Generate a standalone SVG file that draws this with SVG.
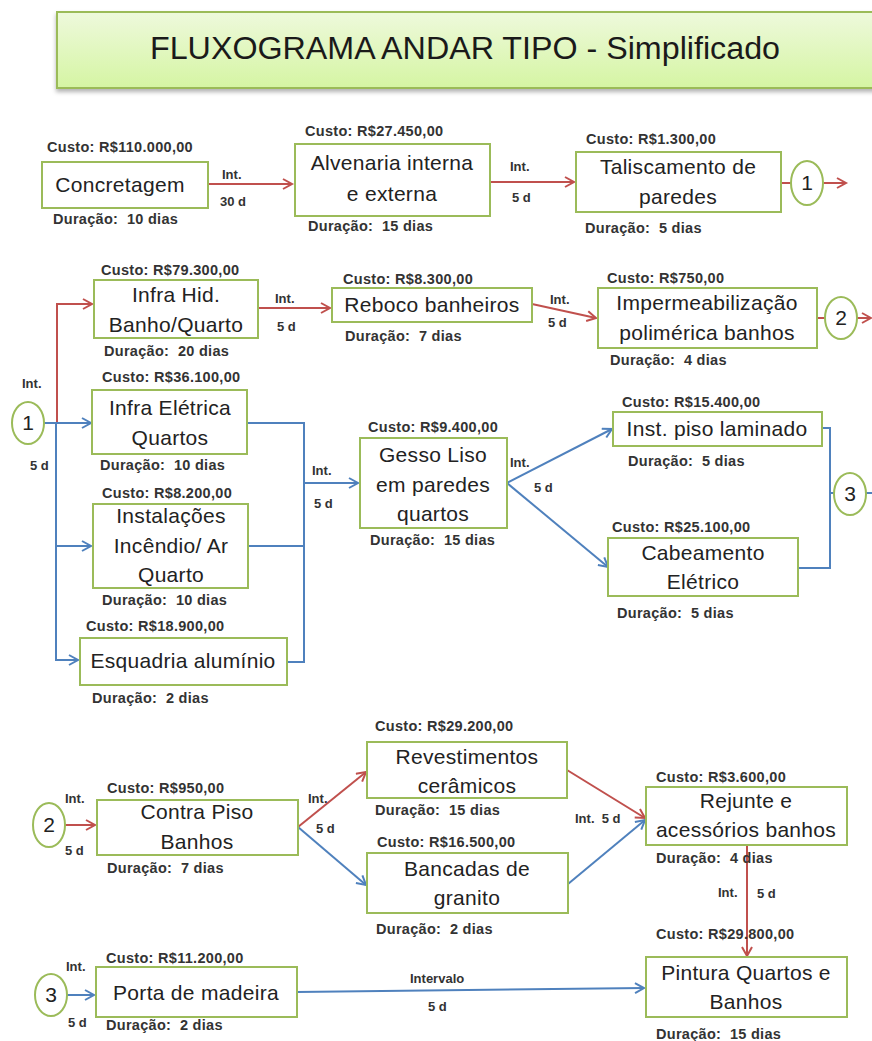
<svg xmlns="http://www.w3.org/2000/svg" width="872" height="1041" viewBox="0 0 872 1041">
<style>
.box{fill:#fff;stroke:#9bbb59;stroke-width:2}
.circ{fill:#fff;stroke:#9bbb59;stroke-width:2}
.nt{font-family:"Liberation Sans",Arial,sans-serif;font-size:21px;fill:#222;text-anchor:middle;letter-spacing:0.3px}
.ct{font-family:"Liberation Sans",Arial,sans-serif;font-size:21px;fill:#222;text-anchor:middle}
.lb{font-family:"Liberation Sans",Arial,sans-serif;font-size:14.5px;font-weight:bold;fill:#333;letter-spacing:0.3px}
.sl{font-family:"Liberation Sans",Arial,sans-serif;font-size:13px;font-weight:bold;fill:#333}
.r{fill:none;stroke:#c0504d;stroke-width:2}
.b{fill:none;stroke:#4f81bd;stroke-width:2}
.ra{marker-end:url(#ar)}
.ba{marker-end:url(#ab)}
</style>
<defs>
<linearGradient id="tg" x1="0" y1="0" x2="0" y2="1">
<stop offset="0" stop-color="#eef9dc"/>
<stop offset="1" stop-color="#d5f5a3"/>
</linearGradient>
<marker id="ar" markerUnits="userSpaceOnUse" markerWidth="14" markerHeight="14" refX="10" refY="6" orient="auto"><path d="M1,1 L10,6 L1,11" fill="none" stroke="#c0504d" stroke-width="2"/></marker>
<marker id="ab" markerUnits="userSpaceOnUse" markerWidth="14" markerHeight="14" refX="10" refY="6" orient="auto"><path d="M1,1 L10,6 L1,11" fill="none" stroke="#4f81bd" stroke-width="2"/></marker>
<filter id="sh" x="-5%" y="-20%" width="110%" height="150%"><feDropShadow dx="0" dy="3" stdDeviation="2" flood-color="#000" flood-opacity="0.3"/></filter>
</defs>
<rect width="872" height="1041" fill="#fff"/>

<g id="title">
<rect x="57" y="12" width="830" height="76" fill="url(#tg)" stroke="#9bbb59" stroke-width="2" filter="url(#sh)"/>
<text x="150" y="59" font-family="Liberation Sans,Arial,sans-serif" font-size="31" fill="#1a1a1a" textLength="630" lengthAdjust="spacingAndGlyphs">FLUXOGRAMA ANDAR TIPO - Simplificado</text>
</g>

<g id="connectors">
<line class="r ra" x1="208" y1="184" x2="292" y2="184"/>
<line class="r ra" x1="490" y1="182" x2="574" y2="182"/>
<line class="r" x1="781" y1="183" x2="791" y2="183"/>
<line class="r ra" x1="824" y1="183" x2="846" y2="183"/>
<line class="r ra" x1="258" y1="308" x2="330" y2="308"/>
<line class="r ra" x1="532" y1="304" x2="596" y2="318"/>
<line class="r" x1="817" y1="318" x2="826" y2="318"/>
<line class="r ra" x1="856" y1="318" x2="871" y2="318"/>
<polyline class="r ra" points="57,423 57,304 92,304"/>
<line class="b ba" x1="44" y1="423" x2="91" y2="423"/>
<polyline class="b" points="56,423 56,660 68,660"/>
<line class="b ba" x1="56" y1="546" x2="91" y2="546"/>
<line class="b ba" x1="56" y1="660" x2="78" y2="660"/>
<polyline class="b" points="247,423 304,423 304,662 287,662"/>
<line class="b" x1="248" y1="546" x2="304" y2="546"/>
<line class="b ba" x1="304" y1="483" x2="358" y2="483"/>
<line class="b ba" x1="507" y1="483" x2="612" y2="429"/>
<line class="b ba" x1="507" y1="483" x2="608" y2="567"/>
<polyline class="b" points="822,428 830,428 830,568 798,568"/>
<line class="b" x1="830" y1="493" x2="834" y2="493"/>
<line class="b" x1="866" y1="493" x2="872" y2="493"/>
<line class="r ra" x1="65" y1="825" x2="95" y2="825"/>
<line class="r ra" x1="298" y1="827" x2="366" y2="772"/>
<line class="b ba" x1="298" y1="827" x2="366" y2="885"/>
<line class="r ra" x1="567" y1="770" x2="645" y2="818"/>
<line class="b ba" x1="568" y1="884" x2="645" y2="820"/>
<line class="r ra" x1="747" y1="845" x2="747" y2="956"/>
<line class="b ba" x1="67" y1="995" x2="94" y2="995"/>
<line class="b ba" x1="297" y1="992" x2="644" y2="988"/>
<text class="sl" x="222" y="179">Int.</text>
<text class="sl" x="220" y="206">30 d</text>
<text class="sl" x="510" y="171">Int.</text>
<text class="sl" x="512" y="202">5 d</text>
<text class="sl" x="275" y="303">Int.</text>
<text class="sl" x="277" y="331">5 d</text>
<text class="sl" x="550" y="304">Int.</text>
<text class="sl" x="548" y="327">5 d</text>
<text class="sl" x="22" y="388">Int.</text>
<text class="sl" x="30" y="470">5 d</text>
<text class="sl" x="312" y="475">Int.</text>
<text class="sl" x="314" y="508">5 d</text>
<text class="sl" x="510" y="467">Int.</text>
<text class="sl" x="534" y="492">5 d</text>
<text class="sl" x="65" y="803">Int.</text>
<text class="sl" x="65" y="855">5 d</text>
<text class="sl" x="308" y="803">Int.</text>
<text class="sl" x="316" y="833">5 d</text>
<text class="sl" x="575" y="823">Int.&#160; 5 d</text>
<text class="sl" x="718" y="897">Int.</text>
<text class="sl" x="757" y="898">5 d</text>
<text class="sl" x="66" y="971">Int.</text>
<text class="sl" x="68" y="1027">5 d</text>
<text class="sl" x="410" y="983">Intervalo</text>
<text class="sl" x="428" y="1011">5 d</text>
</g>

<g id="c1a"><ellipse class="circ" cx="807" cy="183" rx="16" ry="22"/><text class="ct" x="807" y="190">1</text></g>
<g id="c2a"><ellipse class="circ" cx="841" cy="318" rx="16" ry="21"/><text class="ct" x="841" y="325">2</text></g>
<g id="c1b"><ellipse class="circ" cx="28" cy="423" rx="16" ry="21"/><text class="ct" x="28" y="430">1</text></g>
<g id="c3a"><ellipse class="circ" cx="850" cy="494" rx="16" ry="21"/><text class="ct" x="850" y="501">3</text></g>
<g id="c2b"><ellipse class="circ" cx="49" cy="825" rx="16" ry="22"/><text class="ct" x="49" y="832">2</text></g>
<g id="c3b"><ellipse class="circ" cx="51" cy="995" rx="16" ry="21"/><text class="ct" x="51" y="1002">3</text></g>

<g id="concretagem">
<rect class="box" x="42" y="162" width="166" height="46"/>
<text class="nt" x="120" y="192">Concretagem</text>
<text class="lb" x="47" y="152">Custo: R$110.000,00</text>
<text class="lb" x="53" y="224">Duração:&#160; 10 dias</text>
</g>
<g id="alvenaria">
<rect class="box" x="295" y="144" width="195" height="72"/>
<text class="nt" x="392" y="170">Alvenaria interna</text>
<text class="nt" x="392" y="201">e externa</text>
<text class="lb" x="305" y="136">Custo: R$27.450,00</text>
<text class="lb" x="308" y="231">Duração:&#160; 15 dias</text>
</g>
<g id="taliscamento">
<rect class="box" x="576" y="152" width="205" height="60"/>
<text class="nt" x="678" y="174">Taliscamento de</text>
<text class="nt" x="678" y="204">paredes</text>
<text class="lb" x="586" y="144">Custo: R$1.300,00</text>
<text class="lb" x="585" y="233">Duração:&#160; 5 dias</text>
</g>
<g id="infra-hid">
<rect class="box" x="94" y="280" width="164" height="58"/>
<text class="nt" x="176" y="302">Infra Hid.</text>
<text class="nt" x="176" y="332">Banho/Quarto</text>
<text class="lb" x="101" y="275">Custo: R$79.300,00</text>
<text class="lb" x="104" y="356">Duração:&#160; 20 dias</text>
</g>
<g id="reboco">
<rect class="box" x="332" y="288" width="200" height="34"/>
<text class="nt" x="432" y="312">Reboco banheiros</text>
<text class="lb" x="343" y="284">Custo: R$8.300,00</text>
<text class="lb" x="345" y="341">Duração:&#160; 7 dias</text>
</g>
<g id="impermeabilizacao">
<rect class="box" x="598" y="288" width="219" height="60"/>
<text class="nt" x="707" y="310">Impermeabilização</text>
<text class="nt" x="707" y="340">polimérica banhos</text>
<text class="lb" x="607" y="283">Custo: R$750,00</text>
<text class="lb" x="610" y="365">Duração:&#160; 4 dias</text>
</g>
<g id="infra-eletrica">
<rect class="box" x="92" y="390" width="155" height="64"/>
<text class="nt" x="170" y="415">Infra Elétrica</text>
<text class="nt" x="170" y="445">Quartos</text>
<text class="lb" x="102" y="382">Custo: R$36.100,00</text>
<text class="lb" x="100" y="470">Duração:&#160; 10 dias</text>
</g>
<g id="instalacoes">
<rect class="box" x="93" y="504" width="155" height="84"/>
<text class="nt" x="171" y="523">Instalações</text>
<text class="nt" x="171" y="553">Incêndio/ Ar</text>
<text class="nt" x="171" y="582">Quarto</text>
<text class="lb" x="102" y="498">Custo: R$8.200,00</text>
<text class="lb" x="102" y="605">Duração:&#160; 10 dias</text>
</g>
<g id="esquadria">
<rect class="box" x="80" y="638" width="207" height="47"/>
<text class="nt" x="183" y="668">Esquadria alumínio</text>
<text class="lb" x="86" y="631">Custo: R$18.900,00</text>
<text class="lb" x="92" y="703">Duração:&#160; 2 dias</text>
</g>
<g id="gesso">
<rect class="box" x="360" y="438" width="147" height="90"/>
<text class="nt" x="433" y="462">Gesso Liso</text>
<text class="nt" x="433" y="492">em paredes</text>
<text class="nt" x="433" y="521">quartos</text>
<text class="lb" x="368" y="432">Custo: R$9.400,00</text>
<text class="lb" x="370" y="545">Duração:&#160; 15 dias</text>
</g>
<g id="piso">
<rect class="box" x="613" y="412" width="209" height="34"/>
<text class="nt" x="717" y="436">Inst. piso laminado</text>
<text class="lb" x="622" y="407">Custo: R$15.400,00</text>
<text class="lb" x="628" y="466">Duração:&#160; 5 dias</text>
</g>
<g id="cabeamento">
<rect class="box" x="608" y="538" width="190" height="58"/>
<text class="nt" x="703" y="560">Cabeamento</text>
<text class="nt" x="703" y="589">Elétrico</text>
<text class="lb" x="612" y="532">Custo: R$25.100,00</text>
<text class="lb" x="617" y="618">Duração:&#160; 5 dias</text>
</g>
<g id="contrapiso">
<rect class="box" x="97" y="800" width="201" height="55"/>
<text class="nt" x="197" y="819">Contra Piso</text>
<text class="nt" x="197" y="849">Banhos</text>
<text class="lb" x="107" y="793">Custo: R$950,00</text>
<text class="lb" x="107" y="873">Duração:&#160; 7 dias</text>
</g>
<g id="revestimentos">
<rect class="box" x="367" y="742" width="200" height="56"/>
<text class="nt" x="467" y="764">Revestimentos</text>
<text class="nt" x="467" y="793">cerâmicos</text>
<text class="lb" x="375" y="731">Custo: R$29.200,00</text>
<text class="lb" x="375" y="815">Duração:&#160; 15 dias</text>
</g>
<g id="bancadas">
<rect class="box" x="367" y="853" width="201" height="60"/>
<text class="nt" x="467" y="876">Bancadas de</text>
<text class="nt" x="467" y="905">granito</text>
<text class="lb" x="377" y="847">Custo: R$16.500,00</text>
<text class="lb" x="376" y="934">Duração:&#160; 2 dias</text>
</g>
<g id="rejunte">
<rect class="box" x="646" y="787" width="201" height="58"/>
<text class="nt" x="746" y="808">Rejunte e</text>
<text class="nt" x="746" y="837">acessórios banhos</text>
<text class="lb" x="656" y="782">Custo: R$3.600,00</text>
<text class="lb" x="656" y="863">Duração:&#160; 4 dias</text>
</g>
<g id="pintura">
<rect class="box" x="646" y="957" width="201" height="60"/>
<text class="nt" x="746" y="980">Pintura Quartos e</text>
<text class="nt" x="746" y="1009">Banhos</text>
<text class="lb" x="656" y="939">Custo: R$29.800,00</text>
<text class="lb" x="656" y="1039">Duração:&#160; 15 dias</text>
</g>
<g id="porta">
<rect class="box" x="96" y="967" width="201" height="50"/>
<text class="nt" x="196" y="1000">Porta de madeira</text>
<text class="lb" x="106" y="963">Custo: R$11.200,00</text>
<text class="lb" x="106" y="1030">Duração:&#160; 2 dias</text>
</g>
</svg>
